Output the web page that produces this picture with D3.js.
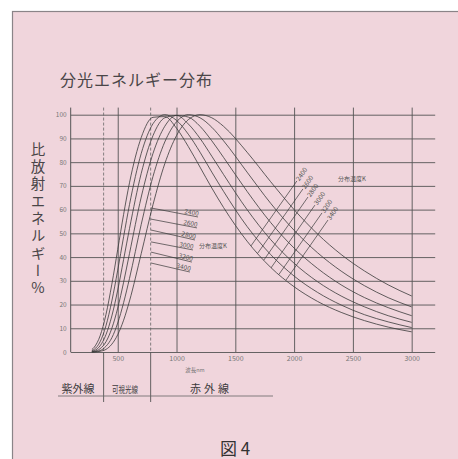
<!DOCTYPE html>
<html>
<head>
<meta charset="utf-8">
<script src="https://cdn.jsdelivr.net/npm/d3@7"></script>
<style>
  body { margin: 0; background: #fff; }
  svg text { font-family: "Noto Sans CJK JP", "Noto Sans", sans-serif; }
</style>
</head>
<body>
<div id="chart"></div>
<script>
// wavelength samples (nm) and relative energy (%)
const wavelengths = [280, 300, 350, 400, 450, 500, 550, 600, 700, 800, 900, 1000, 1100, 1200, 1300, 1400, 1600, 1800, 2000, 2200, 2400, 2600, 2800, 3000];
const temps = ["2400", "2600", "2800", "3000", "3200", "3400"];
const energy2400 = [0, 0, 0.3, 1.1, 3.3, 7.3, 13.4, 21.5, 41.5, 62.1, 79.3, 91.2, 97.9, 100, 98.7, 95.1, 84.2, 71.8, 60.0, 49.7, 41.1, 34.1, 28.3, 23.6];
const energy2600 = [0, 0.1, 0.6, 2.4, 6.0, 12.2, 20.8, 31.0, 53.8, 74.0, 88.5, 97.0, 100, 98.7, 94.7, 89.0, 75.8, 62.7, 51.3, 41.8, 34.1, 27.9, 22.9, 19.0];
const energy2800 = [0.1, 0.25, 1.4, 4.3, 10.0, 18.5, 29.4, 41.5, 65.3, 83.7, 95.1, 99.7, 99.0, 95.1, 89.0, 82.0, 67.7, 54.6, 43.8, 35.2, 28.3, 22.9, 18.7, 15.3];
const energy3000 = [0.25, 0.56, 2.6, 7.3, 15.2, 26.1, 39.0, 52.0, 75.3, 91.2, 98.7, 99.7, 96.1, 90.0, 82.5, 74.8, 60.0, 47.4, 37.4, 29.6, 23.6, 19.0, 15.3, 12.5];
const energy3200 = [0.53, 1.1, 4.3, 11.1, 21.5, 34.5, 48.6, 62.1, 83.7, 96.2, 100, 97.6, 91.8, 84.2, 75.8, 67.7, 52.9, 41.1, 32.0, 25.1, 19.8, 15.7, 12.7, 10.3];
const energy3400 = [1.0, 2.0, 6.8, 15.8, 28.6, 43.2, 58.0, 71.3, 90.4, 98.9, 99.2, 94.3, 86.6, 77.9, 69.1, 60.9, 46.7, 35.7, 27.5, 21.3, 16.7, 13.2, 10.5, 8.5];
const series = [energy2400, energy2600, energy2800, energy3000, energy3200, energy3400];

// ticks
const xTicks = [500, 1000, 1500, 2000, 2500, 3000];
const yTicks = [0, 10, 20, 30, 40, 50, 60, 70, 80, 90, 100];
const bandEdges = [380, 780]; // UV / visible / IR borders

// leader lines for the temperature labels (nm, %)
const leftLeadStartNm = [783, 783, 783, 783, 783, 783];
const leftLeadStartPct = [60.7, 56.0, 51.4, 46.4, 42.1, 37.5];
const leftLeadEndNm = [1183, 1174, 1157, 1140, 1131, 1114];
const leftLeadEndPct = [56.9, 52.3, 47.2, 43.0, 37.9, 33.7];
const rightLeadStartNm = [1633, 1690, 1742, 1803, 1871, 1931];
const rightLeadStartPct = [44.7, 41.6, 38.7, 35.4, 32.7, 30.3];
const rightLeadEndNm = [2024, 2075, 2118, 2177, 2237, 2288];
const rightLeadEndPct = [72.1, 68.7, 65.3, 61.9, 58.6, 55.6];

const W = 458, H = 459;
const ink = "#3c3a3c";
const svg = d3.select("#chart").append("svg").attr("width", W).attr("height", H);

// pink sheet with grey frame
svg.append("rect").attr("x", 12.5).attr("y", 11.5).attr("width", W).attr("height", H)
  .attr("fill", "#f0d5dc").attr("stroke", "#8a8488").attr("stroke-width", 1.2);

const x = d3.scaleLinear().domain([100, 3200]).range([70.7, 435.2]);
const y = d3.scaleLinear().domain([0, 100]).range([352, 114.7]);

// title
svg.append("text").attr("x", 60).attr("y", 86).attr("font-size", 16)
  .attr("letter-spacing", 1).attr("fill", "#4a4648").text("分光エネルギー分布");

// y label, written vertically
svg.append("text").attr("x", 38).attr("y", 142)
  .attr("style", "writing-mode: vertical-rl; text-orientation: upright;")
  .attr("font-size", 14.5).attr("letter-spacing", 2.8).attr("fill", "#4a4648")
  .text("比放射エネルギー%");

// horizontal grid + y tick labels
const gy = svg.append("g").attr("transform", `translate(${x(100)},0)`)
  .call(d3.axisLeft(y).tickValues(yTicks).tickSize(-(x(3200) - x(100))).tickPadding(4));
gy.select(".domain").remove();
gy.selectAll("line").attr("stroke", "#555").attr("stroke-width", 0.9);
gy.selectAll("text").attr("font-size", 6.5).attr("fill", "#777");

// vertical grid + x tick labels
const gx = svg.append("g").attr("transform", `translate(0,${y(0)})`)
  .call(d3.axisBottom(x).tickValues(xTicks).tickFormat(d3.format("d"))
    .tickSize(-(y(0) - y(103))).tickPadding(4));
gx.select(".domain").remove();
gx.selectAll("line").attr("stroke", "#555").attr("stroke-width", 0.9);
gx.selectAll("text").attr("font-size", 7).attr("fill", "#777");

// left axis line
svg.append("line").attr("x1", x(100)).attr("x2", x(100)).attr("y1", y(103)).attr("y2", y(0))
  .attr("stroke", "#555").attr("stroke-width", 1);

// band borders: dashed inside plot, solid below
svg.append("g").selectAll("line").data(bandEdges).enter().append("line")
  .attr("x1", (d) => x(d)).attr("x2", (d) => x(d)).attr("y1", y(103)).attr("y2", y(0))
  .attr("stroke", "#666").attr("stroke-width", 0.8).attr("stroke-dasharray", "3,2");
svg.append("g").selectAll("line").data(bandEdges).enter().append("line")
  .attr("x1", (d) => x(d)).attr("x2", (d) => x(d)).attr("y1", y(0)).attr("y2", 402)
  .attr("stroke", "#555").attr("stroke-width", 0.9);
svg.append("line").attr("x1", 58).attr("x2", 273).attr("y1", 396).attr("y2", 396)
  .attr("stroke", "#666").attr("stroke-width", 0.8);

svg.append("text").attr("x", 195).attr("y", 372).attr("text-anchor", "middle")
  .attr("font-size", 5.5).attr("fill", "#777").text("波長nm");

// band names
svg.append("text").attr("x", 78).attr("y", 393).attr("text-anchor", "middle")
  .attr("font-size", 11).attr("fill", ink).text("紫外線");
svg.append("text").attr("x", 112).attr("y", 393).attr("font-size", 9)
  .attr("textLength", 26).attr("lengthAdjust", "spacingAndGlyphs").attr("fill", ink).text("可視光線");
svg.append("text").attr("x", 211).attr("y", 393).attr("text-anchor", "middle")
  .attr("font-size", 11).attr("letter-spacing", 3).attr("fill", ink).text("赤外線");

// curves
const line = d3.line().x((d) => x(d[0])).y((d) => y(d[1])).curve(d3.curveMonotoneX);
svg.append("g").selectAll("path").data(series).enter().append("path")
  .attr("d", (s) => line(wavelengths.map((w, i) => [w, s[i]])))
  .attr("fill", "none").attr("stroke", "#3a3a3a").attr("stroke-width", 0.8);

// left labels
temps.forEach((t, i) => {
  const x1 = x(leftLeadStartNm[i]), y1 = y(leftLeadStartPct[i]);
  const x2 = x(leftLeadEndNm[i]), y2 = y(leftLeadEndPct[i]);
  const ang = Math.atan2(y2 - y1, x2 - x1) * 180 / Math.PI;
  svg.append("line").attr("x1", x1).attr("y1", y1).attr("x2", x2).attr("y2", y2)
    .attr("stroke", "#3a3a3a").attr("stroke-width", 0.7);
  svg.append("text").attr("transform", `translate(${x2},${y2}) rotate(${ang})`)
    .attr("text-anchor", "end").attr("dy", -1).attr("font-size", 6.5).attr("fill", "#555").text(t);
});
svg.append("text").attr("x", 199).attr("y", 248).attr("font-size", 6).attr("fill", "#555").text("分布温度K");

// right labels
temps.forEach((t, i) => {
  const x1 = x(rightLeadStartNm[i]), y1 = y(rightLeadStartPct[i]);
  const x2 = x(rightLeadEndNm[i]), y2 = y(rightLeadEndPct[i]);
  const ang = Math.atan2(y2 - y1, x2 - x1) * 180 / Math.PI;
  svg.append("line").attr("x1", x1).attr("y1", y1).attr("x2", x2).attr("y2", y2)
    .attr("stroke", "#3a3a3a").attr("stroke-width", 0.7);
  svg.append("text").attr("transform", `translate(${x2},${y2}) rotate(${ang})`)
    .attr("x", 1).attr("dy", "0.35em").attr("font-size", 6.5).attr("fill", "#555").text(t);
});
svg.append("text").attr("x", 338).attr("y", 181).attr("font-size", 6).attr("fill", "#555").text("分布温度K");

// figure caption
svg.append("text").attr("x", 235).attr("y", 455).attr("text-anchor", "middle")
  .attr("font-size", 17).attr("fill", "#333").text("図 4");
</script>
</body>
</html>
